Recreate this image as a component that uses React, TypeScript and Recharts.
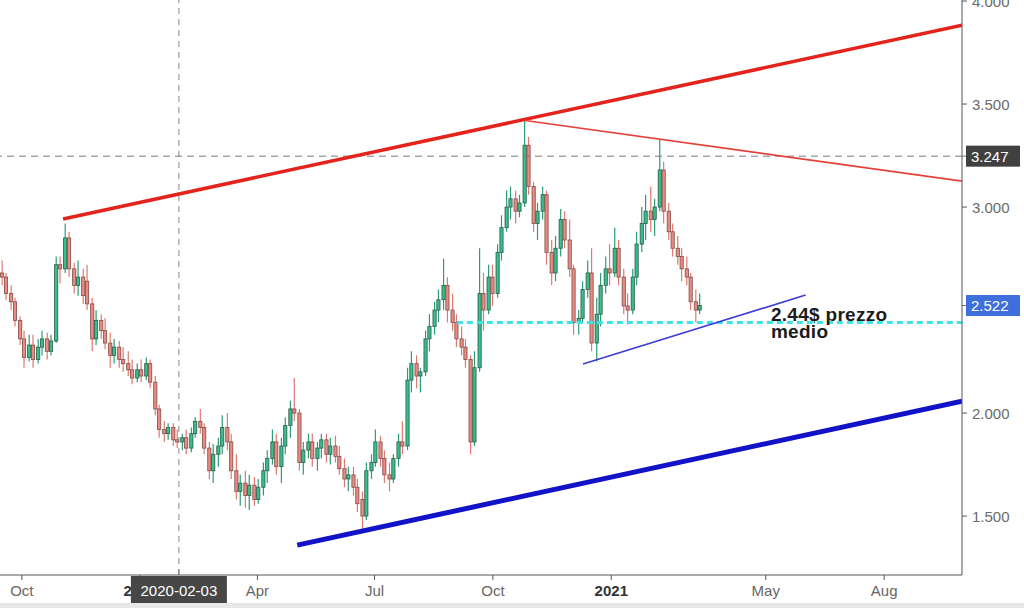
import {
  Bar,
  ComposedChart,
  ReferenceDot,
  ReferenceLine,
  XAxis,
  YAxis,
} from "recharts";

const DAY = 86400000;
const utc = (y: number, m: number, d: number) => Date.UTC(y, m - 1, d);

// half-week candles: Monday and Thursday of every week, first one Mon 16 Sep 2019
const FIRST_MONDAY = utc(2019, 9, 16);

const opens = [
  2.68, 2.66, 2.58, 2.54, 2.45, 2.36, 2.27, 2.33, 2.26, 2.32, 2.36, 2.3, 2.35, 2.72, 2.7, 2.85,
  2.7, 2.62, 2.66, 2.64, 2.53, 2.36, 2.45, 2.4, 2.34, 2.28, 2.32, 2.26, 2.24, 2.21, 2.17, 2.21,
  2.18, 2.24, 2.15, 2.02, 1.92, 1.9, 1.93, 1.87, 1.86, 1.88, 1.83, 1.9, 1.96, 1.93, 1.83, 1.72,
  1.8, 1.84, 1.93, 1.86, 1.72, 1.62, 1.66, 1.6, 1.65, 1.58, 1.64, 1.72, 1.78, 1.86, 1.74, 1.84,
  1.94, 2.02, 2.0, 1.76, 1.82, 1.86, 1.78, 1.83, 1.87, 1.8, 1.84, 1.79, 1.73, 1.68, 1.7, 1.64,
  1.58, 1.5, 1.72, 1.76, 1.86, 1.78, 1.7, 1.68, 1.78, 1.86, 1.84, 2.16, 2.24, 2.18, 2.2, 2.36,
  2.42, 2.5, 2.55, 2.62, 2.5, 2.44, 2.36, 2.32, 2.26, 1.86, 2.22, 2.58, 2.5, 2.66, 2.58, 2.78,
  2.9, 3.0, 3.04, 2.98, 3.02, 3.3, 3.1, 2.92, 2.98, 3.06, 2.78, 2.68, 2.8, 2.94, 2.84, 2.7,
  2.44, 2.46, 2.6, 2.68, 2.34, 2.48, 2.62, 2.7, 2.68, 2.8, 2.66, 2.52, 2.5, 2.66, 2.82, 2.92,
  2.98, 2.94, 3.0, 3.18, 2.98, 2.88, 2.8, 2.76, 2.7, 2.66, 2.54, 2.5,
];
const highs = [
  2.74, 2.68, 2.62, 2.56, 2.47, 2.4, 2.38, 2.38, 2.36, 2.4, 2.39, 2.38, 2.76, 2.76, 2.92, 2.88,
  2.73, 2.74, 2.7, 2.72, 2.56, 2.5, 2.48, 2.46, 2.39, 2.36, 2.35, 2.32, 2.3, 2.26, 2.24, 2.26,
  2.27, 2.26, 2.18, 2.04, 1.96, 1.95, 1.95, 1.92, 1.9, 1.92, 1.93, 1.98, 2.02, 1.95, 1.86, 1.85,
  1.88, 1.99, 2.0, 1.9, 1.8, 1.7, 1.72, 1.7, 1.69, 1.68, 1.76, 1.82, 1.92, 1.9, 1.88, 1.98,
  2.06, 2.17, 2.02, 1.86, 1.9, 1.9, 1.86, 1.9, 1.9, 1.88, 1.89, 1.84, 1.78, 1.74, 1.74, 1.68,
  1.62, 1.76, 1.8, 1.92, 1.89, 1.82, 1.76, 1.8, 1.9, 1.96, 2.22, 2.3, 2.28, 2.22, 2.4, 2.48,
  2.54, 2.6, 2.75, 2.66, 2.58, 2.48, 2.42, 2.36, 2.28, 2.3, 2.8, 2.68, 2.72, 2.72, 2.82, 2.96,
  3.08, 3.1, 3.08, 3.06, 3.42, 3.34, 3.12, 3.02, 3.1, 3.08, 2.84, 2.86, 2.99, 2.98, 2.94, 2.72,
  2.5, 2.64, 2.74, 2.8, 2.56, 2.68, 2.76, 2.82, 2.9, 2.84, 2.7, 2.58, 2.7, 2.88, 3.0, 3.06,
  3.1, 3.04, 3.33, 3.22, 3.02, 2.92, 2.86, 2.8, 2.76, 2.68, 2.6, 2.58,
];
const lows = [
  2.62, 2.55, 2.5, 2.42, 2.33, 2.22, 2.25, 2.22, 2.24, 2.28, 2.26, 2.28, 2.34, 2.63, 2.68, 2.66,
  2.58, 2.57, 2.53, 2.5, 2.3, 2.33, 2.36, 2.31, 2.22, 2.24, 2.22, 2.2, 2.18, 2.14, 2.15, 2.15,
  2.16, 2.12, 1.99, 1.88, 1.86, 1.87, 1.84, 1.83, 1.82, 1.8, 1.81, 1.88, 1.9, 1.8, 1.68, 1.66,
  1.74, 1.8, 1.82, 1.68, 1.58, 1.55, 1.54, 1.53, 1.55, 1.56, 1.6, 1.66, 1.75, 1.7, 1.66, 1.8,
  1.88, 1.96, 1.72, 1.7, 1.78, 1.74, 1.72, 1.78, 1.76, 1.75, 1.76, 1.7, 1.64, 1.62, 1.6, 1.52,
  1.43, 1.48, 1.68, 1.74, 1.74, 1.66, 1.62, 1.66, 1.74, 1.8, 1.82, 2.1, 2.12, 2.1, 2.18, 2.3,
  2.38, 2.44, 2.5, 2.44, 2.4, 2.32, 2.28, 2.22, 1.8, 1.84, 2.2, 2.4, 2.48, 2.52, 2.56, 2.74,
  2.88, 2.94, 2.92, 2.95, 3.0, 3.06, 2.88, 2.84, 2.94, 2.72, 2.62, 2.64, 2.76, 2.8, 2.66, 2.38,
  2.38, 2.44, 2.56, 2.3, 2.25, 2.42, 2.58, 2.62, 2.66, 2.62, 2.48, 2.43, 2.48, 2.62, 2.78, 2.84,
  2.88, 2.86, 2.98, 2.92, 2.84, 2.76, 2.72, 2.64, 2.62, 2.5, 2.44, 2.48,
];
const closes = [
  2.66, 2.58, 2.54, 2.45, 2.36, 2.27, 2.33, 2.26, 2.32, 2.36, 2.3, 2.35, 2.72, 2.7, 2.85, 2.7,
  2.62, 2.66, 2.57, 2.53, 2.36, 2.45, 2.4, 2.34, 2.28, 2.32, 2.26, 2.24, 2.21, 2.17, 2.21, 2.18,
  2.24, 2.15, 2.02, 1.92, 1.9, 1.93, 1.87, 1.86, 1.88, 1.83, 1.9, 1.96, 1.93, 1.83, 1.72, 1.8,
  1.84, 1.93, 1.86, 1.72, 1.62, 1.66, 1.6, 1.65, 1.58, 1.64, 1.72, 1.78, 1.86, 1.74, 1.84, 1.94,
  2.02, 2.0, 1.76, 1.82, 1.86, 1.78, 1.83, 1.87, 1.8, 1.84, 1.79, 1.73, 1.68, 1.7, 1.64, 1.56,
  1.5, 1.72, 1.76, 1.86, 1.78, 1.7, 1.68, 1.78, 1.86, 1.84, 2.16, 2.24, 2.18, 2.2, 2.36, 2.42,
  2.5, 2.55, 2.62, 2.5, 2.44, 2.36, 2.32, 2.26, 1.86, 2.22, 2.58, 2.5, 2.66, 2.58, 2.78, 2.9,
  3.0, 3.04, 2.98, 3.02, 3.3, 3.1, 2.92, 2.98, 3.06, 2.78, 2.68, 2.8, 2.94, 2.84, 2.7, 2.44,
  2.46, 2.6, 2.68, 2.34, 2.48, 2.62, 2.7, 2.68, 2.8, 2.66, 2.52, 2.5, 2.66, 2.82, 2.92, 2.98,
  2.94, 3.0, 3.18, 2.98, 2.88, 2.8, 2.76, 2.7, 2.66, 2.54, 2.5, 2.522,
];

const xTickDates = [
  utc(2019, 10, 1),
  utc(2020, 1, 1),
  utc(2020, 4, 1),
  utc(2020, 7, 1),
  utc(2020, 10, 1),
  utc(2021, 1, 1),
  utc(2021, 5, 1),
  utc(2021, 8, 1),
];
const xTickLabels = ["Oct", "2020", "Apr", "Jul", "Oct", "2021", "May", "Aug"];
// crosshair sits a touch left of the 3 Feb calendar slot in the picture
const CROSS_X = utc(2020, 1, 31);
const CROSS_LABEL = "2020-02-03";

const yTickValues = [1.5, 2, 3, 3.5, 4];
const yTickLabels = ["1.500", "2.000", "3.000", "3.500", "4.000"];
const LEVEL_PRICE = 3.247;
const LAST_PRICE = 2.522;
const AVG_PRICE = 2.44;

const X_MIN = utc(2019, 9, 14);
const X_MAX = utc(2021, 9, 30) + DAY / 2;

// trend lines: [date, price] pairs
const upperRed = [[utc(2019, 11, 2), 2.942], [X_MAX, 3.883]];
const thinRed = [[utc(2020, 10, 26), 3.42], [X_MAX, 3.126]];
const thinBlue = [[utc(2020, 12, 10), 2.238], [utc(2021, 6, 1), 2.573]];
const lowerBlue = [[utc(2020, 5, 2), 1.359], [X_MAX, 2.058]];
const avgStart = utc(2020, 9, 3);

const FONT = "'Liberation Sans', Arial, sans-serif";

const candles = closes.map((c, i) => ({
  t: FIRST_MONDAY + (Math.floor(i / 2) * 7 + (i % 2) * 3) * DAY,
  open: opens[i],
  high: highs[i],
  low: lows[i],
  close: c,
  range: [lows[i], highs[i]],
}));

function Candle(props: any) {
  const { x, y, width, height, payload } = props;
  if (x == null || y == null) return null;
  const top = Math.min(y, y + height);
  const h = Math.abs(height);
  const { open, close, high, low } = payload;
  const span = high - low || 1;
  const toY = (v: number) => top + ((high - v) / span) * h;
  const cx = x + width / 2;
  const up = close >= open;
  const bTop = toY(Math.max(open, close));
  const bBot = toY(Math.min(open, close));
  return (
    <g>
      <line x1={cx} x2={cx} y1={top} y2={top + h} stroke={up ? "#2a9c76" : "#e0786f"} strokeWidth={1.2} />
      <rect
        x={cx - 1.6}
        y={bTop}
        width={3.2}
        height={Math.max(bBot - bTop, 1)}
        fill={up ? "#36c08e" : "#ec8a80"}
        stroke={up ? "#2b5a48" : "#7e4c47"}
        strokeWidth={0.8}
      />
    </g>
  );
}

function XTick(props: any) {
  const { x, y, payload } = props;
  const v = payload.value;
  const ay = y - 8;
  if (v === CROSS_X) {
    return (
      <g>
        <line x1={x} x2={x} y1={ay - 6} y2={ay} stroke="#777" />
        <rect x={x - 48} y={ay + 1} width={96} height={27} fill="#474747" />
        <text x={x} y={ay + 15} textAnchor="middle" dominantBaseline="central" fill="#fff" fontSize={15} fontFamily={FONT}>
          {CROSS_LABEL}
        </text>
      </g>
    );
  }
  const idx = xTickDates.indexOf(v);
  const label = xTickLabels[idx] ?? "";
  const isYear = /^\d{4}$/.test(label);
  return (
    <g>
      <line x1={x} x2={x} y1={ay} y2={ay + 5} stroke="#555" />
      <text
        x={x}
        y={ay + 15}
        textAnchor="middle"
        dominantBaseline="central"
        fill={isYear ? "#333" : "#666"}
        fontWeight={isYear ? "bold" : "normal"}
        fontSize={15}
        fontFamily={FONT}
      >
        {label}
      </text>
    </g>
  );
}

function YTick(props: any) {
  const { x, y, payload } = props;
  const v = payload.value;
  const ax = x - 10;
  if (v === LEVEL_PRICE || v === LAST_PRICE) {
    return (
      <g>
        <line x1={ax} x2={ax + 4} y1={y} y2={y} stroke="#777" />
        <rect x={ax + 4} y={y - 10.5} width={54} height={21} fill={v === LEVEL_PRICE ? "#404040" : "#3f6fdc"} />
        <text x={ax + 9} y={y} dominantBaseline="central" fill="#fff" fontSize={15} fontFamily={FONT}>
          {v.toFixed(3)}
        </text>
      </g>
    );
  }
  const idx = yTickValues.indexOf(v);
  return (
    <g>
      <line x1={ax} x2={ax + 5} y1={y} y2={y} stroke="#555" />
      <text x={ax + 10} y={y} dominantBaseline="central" fill="#6a6a6a" fontSize={15} fontFamily={FONT}>
        {yTickLabels[idx]}
      </text>
    </g>
  );
}

function AvgLabel(props: any) {
  const { viewBox } = props;
  const x = viewBox.x;
  const y = viewBox.y;
  return (
    <text fontSize={19} fontWeight="bold" fill="#1c1c1c" fontFamily={FONT} letterSpacing={0.3}>
      <tspan x={x} y={y - 1}>2.44$ prezzo</tspan>
      <tspan x={x} y={y + 16}>medio</tspan>
    </text>
  );
}

export default function App() {
  return (
    <div style={{ position: "absolute", left: 0, top: 0, width: 1024, height: 608, background: "#fff", overflow: "hidden" }}>
      <ComposedChart width={1024} height={608} data={candles} margin={{ top: 0, right: 0, bottom: 0, left: 0 }}>
        <XAxis
          dataKey="t"
          type="number"
          domain={[X_MIN, X_MAX]}
          allowDataOverflow
          ticks={[...xTickDates, CROSS_X]}
          interval={0}
          tick={<XTick />}
          tickLine={false}
          tickSize={6}
          tickMargin={2}
          axisLine={{ stroke: "#555" }}
          height={33}
        />
        <YAxis
          orientation="right"
          type="number"
          domain={[1.214, 4.005]}
          allowDataOverflow
          ticks={[...yTickValues, LEVEL_PRICE, LAST_PRICE]}
          interval={0}
          tick={<YTick />}
          tickLine={false}
          tickSize={6}
          tickMargin={4}
          axisLine={{ stroke: "#555" }}
          width={62}
        />
        <ReferenceLine x={CROSS_X} stroke="#8a8a8a" strokeDasharray="6 5" />
        <ReferenceLine y={LEVEL_PRICE} stroke="#7a7a7a" strokeDasharray="7 5" />
        <Bar dataKey="range" barSize={3} shape={<Candle />} isAnimationActive={false} />
        <ReferenceLine
          segment={[{ x: avgStart, y: AVG_PRICE }, { x: X_MAX, y: AVG_PRICE }]}
          stroke="#3fe3e6"
          strokeWidth={3}
          strokeDasharray="6 4"
          ifOverflow="hidden"
        />
        <ReferenceLine
          segment={upperRed.map(([x, y]) => ({ x, y }))}
          stroke="#e4231c"
          strokeWidth={3.5}
          ifOverflow="hidden"
        />
        <ReferenceLine
          segment={thinRed.map(([x, y]) => ({ x, y }))}
          stroke="#e5413a"
          strokeWidth={1.6}
          ifOverflow="hidden"
        />
        <ReferenceLine
          segment={thinBlue.map(([x, y]) => ({ x, y }))}
          stroke="#3c3cd8"
          strokeWidth={1.6}
          ifOverflow="hidden"
        />
        <ReferenceLine
          segment={lowerBlue.map(([x, y]) => ({ x, y }))}
          stroke="#1212c8"
          strokeWidth={5}
          ifOverflow="hidden"
        />
        <ReferenceDot x={utc(2021, 5, 5)} y={AVG_PRICE} r={0} fill="none" stroke="none" label={<AvgLabel />} />
      </ComposedChart>
      <div style={{ position: "absolute", left: 0, top: 603, width: 1024, height: 5, background: "#e8e8e8" }} />
    </div>
  );
}
